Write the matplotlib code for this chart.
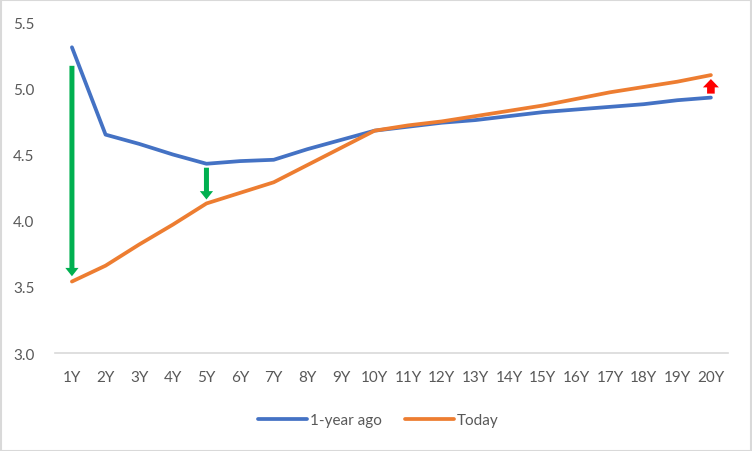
import matplotlib
matplotlib.use("Agg")
import matplotlib.pyplot as plt

tenors = ["1Y", "2Y", "3Y", "4Y", "5Y", "6Y", "7Y", "8Y", "9Y", "10Y",
          "11Y", "12Y", "13Y", "14Y", "15Y", "16Y", "17Y", "18Y", "19Y", "20Y"]
year_ago = [5.31, 4.65, 4.58, 4.50, 4.43, 4.45, 4.46, 4.54, 4.61, 4.68,
            4.71, 4.74, 4.76, 4.79, 4.82, 4.84, 4.86, 4.88, 4.91, 4.93]
today = [3.54, 3.66, 3.82, 3.97, 4.13, 4.21, 4.29, 4.42, 4.55, 4.68,
         4.72, 4.75, 4.79, 4.83, 4.87, 4.92, 4.97, 5.01, 5.05, 5.10]

# arrows: (tenor index, start, end, colour, shaft width, head width)
arrows = [(0, 5.17, 3.58, "#00B050", 0.36, 0.95),
          (4, 4.40, 4.16, "#00B050", 0.36, 0.95),
          (19, 4.96, 5.07, "#FF0000", 0.55, 1.15)]

plt.rcParams["font.family"] = ["Lato", "DejaVu Sans"]

fig = plt.figure(figsize=(7.52, 4.52), dpi=100)
ax = fig.add_axes([0.0733, 0.2168, 0.8944, 0.732])

x = list(range(len(tenors)))
ax.plot(x, year_ago, color="#4472C4", lw=2.7, label="1-year ago", solid_capstyle="round")
ax.plot(x, today, color="#ED7D31", lw=2.7, label="Today", solid_capstyle="round")

for i, y0, y1, c, tw, hw in arrows:
    ax.annotate("", xy=(i, y1), xytext=(i, y0),
                arrowprops=dict(arrowstyle=f"simple,head_length=0.6,head_width={hw},tail_width={tw}",
                                color=c, lw=0, shrinkA=0, shrinkB=0, mutation_scale=10))

ax.set_xlim(-0.5, len(tenors) - 0.5)
ax.set_ylim(3.0, 5.5)
ax.set_xticks(x)
ax.set_xticklabels(tenors)
ax.set_yticks([3.0, 3.5, 4.0, 4.5, 5.0, 5.5])
ax.set_yticklabels(["3.0", "3.5", "4.0", "4.5", "5.0", "5.5"])
ax.tick_params(axis="both", length=0, labelsize=11, colors="#595959")
ax.tick_params(axis="x", pad=12)
ax.tick_params(axis="y", pad=15)
for s in ["top", "right", "left"]:
    ax.spines[s].set_visible(False)
ax.spines["bottom"].set_color("#D9D9D9")
ax.spines["bottom"].set_linewidth(1.2)

fig.legend(loc="center", bbox_to_anchor=(0.503, 0.068), ncol=2, frameon=False,
           fontsize=11, handlelength=3.2, columnspacing=1.5, handletextpad=0.2,
           labelcolor="#595959")

border = plt.Rectangle((0.001, 0.001), 0.998, 0.996, transform=fig.transFigure,
                       fill=False, edgecolor="#D9D9D9", lw=1.5)
fig.patches.append(border)

fig.savefig("out.png", dpi=100)
